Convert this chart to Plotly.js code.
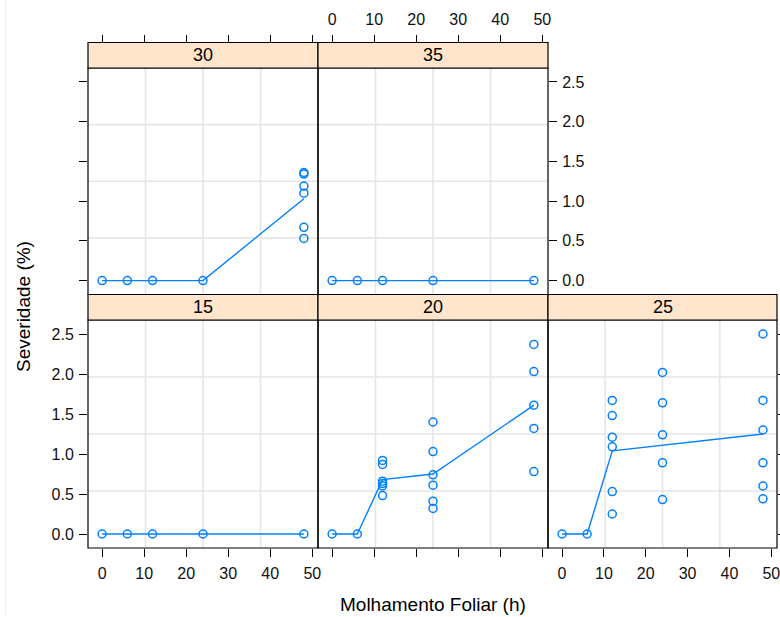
<!DOCTYPE html>
<html><head><meta charset="utf-8">
<script src="https://cdn.plot.ly/plotly-3.0.1.min.js"></script>
<style>html,body{margin:0;padding:0;background:#fff}#chart{width:780px;height:617px}</style>
</head><body><div id="chart"></div>
<script>
// ---- data ----
const panelLabels = ["15", "20", "25", "30", "35"];
const hours = [0, 6, 12, 24, 48];
const xTicks = [0, 10, 20, 30, 40, 50];
const yTicks = [0, 0.5, 1.0, 1.5, 2.0, 2.5];
const yTickText = ["0.0", "0.5", "1.0", "1.5", "2.0", "2.5"];

const x15 = [0, 6, 12, 24, 48];
const y15 = [0, 0, 0, 0, 0];
const mean15 = [0, 0, 0, 0, 0];

const x20 = [0, 6, 12, 12, 12, 12, 12, 12, 24, 24, 24, 24, 24, 24, 48, 48, 48, 48, 48];
const y20 = [0, 0, 0.92, 0.87, 0.66, 0.63, 0.60, 0.48, 1.40, 1.03, 0.74, 0.61, 0.41, 0.32, 2.37, 2.03, 1.61, 1.32, 0.78];
const mean20 = [0, 0, 0.68, 0.75, 1.61];

const x25 = [0, 6, 12, 12, 12, 12, 12, 12, 24, 24, 24, 24, 24, 48, 48, 48, 48, 48, 48];
const y25 = [0, 0, 1.67, 1.48, 1.21, 1.09, 0.53, 0.25, 2.02, 1.64, 1.24, 0.89, 0.43, 2.50, 1.67, 1.30, 0.89, 0.60, 0.44];
const mean25 = [0, 0, 1.04, 1.11, 1.25];

const x30 = [0, 6, 12, 24, 48, 48, 48, 48, 48, 48];
const y30 = [0, 0, 0, 0, 1.36, 1.34, 1.19, 1.10, 0.67, 0.53];
const mean30 = [0, 0, 0, 0, 1.03];

const x35 = [0, 6, 12, 24, 48];
const y35 = [0, 0, 0, 0, 0];
const mean35 = [0, 0, 0, 0, 0];

const xTitle = "Molhamento Foliar (h)";
const yTitle = "Severidade (%)";

// ---- geometry (pixels) ----
const W = 780, H = 617;
const px = v => v / W;
const py = v => 1 - v / H;
const cols = [[88, 318], [318, 548], [548, 777]];
const rows = {
  top: {strip: [42.5, 68], panel: [68, 294.5]},
  bot: {strip: [294.5, 320], panel: [320, 548]}
};
const blue = "#0080ff";
const FONT = "Liberation Sans, Arial, sans-serif";

const panelDefs = [
  {lab: panelLabels[0], xs: x15, ys: y15, m: mean15, col: 0, row: "bot", ax: ""},
  {lab: panelLabels[1], xs: x20, ys: y20, m: mean20, col: 1, row: "bot", ax: "2"},
  {lab: panelLabels[2], xs: x25, ys: y25, m: mean25, col: 2, row: "bot", ax: "3"},
  {lab: panelLabels[3], xs: x30, ys: y30, m: mean30, col: 0, row: "top", ax: "4"},
  {lab: panelLabels[4], xs: x35, ys: y35, m: mean35, col: 1, row: "top", ax: "5"}
];

const traces = [];
const shapes = [];
const annotations = [];
const layout = {
  width: W, height: H,
  margin: {l: 0, r: 0, t: 0, b: 0, pad: 0},
  paper_bgcolor: "#fff", plot_bgcolor: "rgba(0,0,0,0)",
  showlegend: false,
  font: {family: FONT, color: "#000"}
};

const tickFont = {family: FONT, size: 16, color: "#111"};

panelDefs.forEach(p => {
  const xa = "x" + p.ax, ya = "y" + p.ax;
  traces.push({
    type: "scatter", mode: "markers", x: p.xs, y: p.ys, xaxis: xa, yaxis: ya,
    marker: {symbol: "circle-open", size: 8, color: blue, line: {width: 1.5, color: blue}},
    hoverinfo: "skip", cliponaxis: false
  });
  traces.push({
    type: "scatter", mode: "lines", x: hours, y: p.m, xaxis: xa, yaxis: ya,
    line: {color: blue, width: 1.4}, hoverinfo: "skip"
  });
  const c = cols[p.col], r = rows[p.row];
  const xdom = [px(c[0]), px(c[1])];
  const ydom = [py(r.panel[1]), py(r.panel[0])];
  const xKey = "xaxis" + p.ax, yKey = "yaxis" + p.ax;
  const xax = {
    domain: xdom, range: [-3.36, 51.36], anchor: ya,
    showgrid: false, zeroline: false, showline: false,
    tickvals: xTicks, ticktext: xTicks.map(String), tickfont: tickFont,
    ticks: "", ticklen: 8, tickwidth: 1, tickcolor: "#000", showticklabels: false,
    ticklabeloverflow: "allow"
  };
  const yax = {
    domain: ydom, range: [-0.175, 2.675], anchor: xa,
    showgrid: false, zeroline: false, showline: false,
    tickvals: yTicks, ticktext: yTickText, tickfont: tickFont,
    ticks: "", ticklen: 8, tickwidth: 1, tickcolor: "#000", showticklabels: false,
    ticklabeloverflow: "allow"
  };
  if (p.row === "bot") {
    xax.ticks = "outside";
    xax.showticklabels = (p.col !== 1);
    xax.ticklabelstandoff = 3;
  } else {
    xax.side = "top";
    xax.anchor = "free";
    xax.position = py(r.strip[0]);
    xax.ticks = "outside";
    xax.showticklabels = (p.col === 1);
    xax.ticklabelstandoff = 3;
  }
  if (p.col === 0) {
    yax.side = "left"; yax.ticks = "outside";
    yax.showticklabels = (p.row === "bot");
    yax.ticklabelstandoff = 2;
  } else if ((p.row === "top" && p.col === 1) || (p.row === "bot" && p.col === 2)) {
    yax.side = "right"; yax.ticks = "outside";
    yax.showticklabels = (p.row === "top");
    yax.ticklabelstandoff = 2;
  }
  layout[xKey] = xax;
  layout[yKey] = yax;

  // grid lines at quarter points of panel
  [0.25, 0.5, 0.75].forEach(f => {
    shapes.push({type: "line", layer: "below", xref: xa + " domain", yref: ya + " domain",
      x0: f, x1: f, y0: 0, y1: 1, line: {color: "#e6e6e6", width: 1.6}});
    shapes.push({type: "line", layer: "below", xref: xa + " domain", yref: ya + " domain",
      x0: 0, x1: 1, y0: f, y1: f, line: {color: "#e6e6e6", width: 1.6}});
  });
  // panel border
  shapes.push({type: "rect", layer: "above", xref: "paper", yref: "paper",
    x0: xdom[0], x1: xdom[1], y0: ydom[0], y1: ydom[1],
    line: {color: "#000", width: 1.2}, fillcolor: "rgba(0,0,0,0)"});
  // strip
  shapes.push({type: "rect", layer: "above", xref: "paper", yref: "paper",
    x0: xdom[0], x1: xdom[1], y0: py(r.strip[1]), y1: py(r.strip[0]),
    line: {color: "#000", width: 1.2}, fillcolor: "#ffe5cc"});
  annotations.push({xref: "paper", yref: "paper", x: (xdom[0] + xdom[1]) / 2,
    y: (py(r.strip[1]) + py(r.strip[0])) / 2, text: p.lab, showarrow: false,
    xanchor: "center", yanchor: "middle", font: {family: FONT, size: 18, color: "#000"}});
});

// faint page edge
shapes.push({type: "line", xref: "paper", yref: "paper", x0: px(5.5), x1: px(5.5), y0: py(0), y1: py(615),
  line: {color: "#eeeeee", width: 1}});

annotations.push({xref: "paper", yref: "paper", x: px(433), y: py(604), text: xTitle, showarrow: false,
  xanchor: "center", yanchor: "middle", font: {family: FONT, size: 19, color: "#000"}});
annotations.push({xref: "paper", yref: "paper", x: px(23), y: py(307), text: yTitle, showarrow: false,
  textangle: -90, xanchor: "center", yanchor: "middle", font: {family: FONT, size: 19, color: "#000"}});

layout.shapes = shapes;
layout.annotations = annotations;

Plotly.newPlot("chart", traces, layout, {staticPlot: true, displayModeBar: false});
</script>
</body></html>
